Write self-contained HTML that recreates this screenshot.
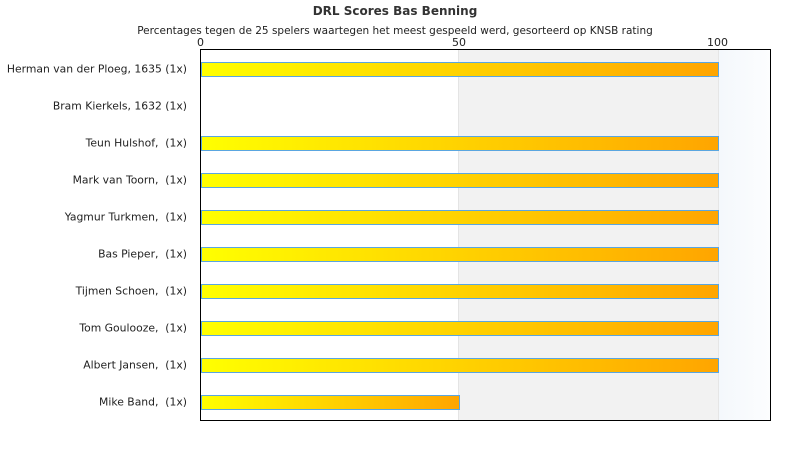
<!DOCTYPE html><html><head><style>
body{margin:0;width:790px;height:450px;background:#fff;font-family:"DejaVu Sans","Liberation Sans",sans-serif;position:relative;overflow:hidden}
.t{position:absolute;white-space:nowrap;font-size:11px;color:#222}
.l{position:absolute;right:603px;font-size:10.8px;color:#222;white-space:nowrap;transform:translateY(-50%)}
.b{position:absolute;left:201px;height:13px;border:1px solid #5aa6e0;background:linear-gradient(to right,#ffff00,#ffa500)}
</style></head><body>
<div class="t" style="left:0;width:790px;text-align:center;top:4px;font-weight:bold;font-size:12px;color:#333">DRL Scores Bas Benning</div>
<div class="t" style="left:0;width:790px;text-align:center;top:25px;font-size:10.5px">Percentages tegen de 25 spelers waartegen het meest gespeeld werd, gesorteerd op KNSB rating</div>
<div class="t" style="left:197px;top:36px">0</div>
<div class="t" style="left:452px;top:36px">50</div>
<div class="t" style="left:707px;top:36px">100</div>
<div style="position:absolute;left:200px;top:49px;width:569px;height:370px;border:1px solid #000;background:linear-gradient(to right,#fff 0,#fff 258px,#f2f2f2 258px,#f2f2f2 517px,#e6e6e6 517px,#e6e6e6 518px,#f4f8fc 518px,#fcfdfe 100%)"></div>
<div style="position:absolute;left:458px;top:50px;width:1px;height:370px;background:#e4e4e4"></div>
<div class="b" style="top:62px;width:516px"></div>
<div class="b" style="top:136px;width:516px"></div>
<div class="b" style="top:173px;width:516px"></div>
<div class="b" style="top:210px;width:516px"></div>
<div class="b" style="top:247px;width:516px"></div>
<div class="b" style="top:284px;width:516px"></div>
<div class="b" style="top:321px;width:516px"></div>
<div class="b" style="top:358px;width:516px"></div>
<div class="b" style="top:395px;width:257px"></div>
<div class="l" style="top:69px">Herman van der Ploeg, 1635 (1x)</div>
<div class="l" style="top:106px">Bram Kierkels, 1632 (1x)</div>
<div class="l" style="top:143px">Teun Hulshof,&nbsp; (1x)</div>
<div class="l" style="top:180px">Mark van Toorn,&nbsp; (1x)</div>
<div class="l" style="top:217px">Yagmur Turkmen,&nbsp; (1x)</div>
<div class="l" style="top:254px">Bas Pieper,&nbsp; (1x)</div>
<div class="l" style="top:291px">Tijmen Schoen,&nbsp; (1x)</div>
<div class="l" style="top:328px">Tom Goulooze,&nbsp; (1x)</div>
<div class="l" style="top:365px">Albert Jansen,&nbsp; (1x)</div>
<div class="l" style="top:402px">Mike Band,&nbsp; (1x)</div>
</body></html>
